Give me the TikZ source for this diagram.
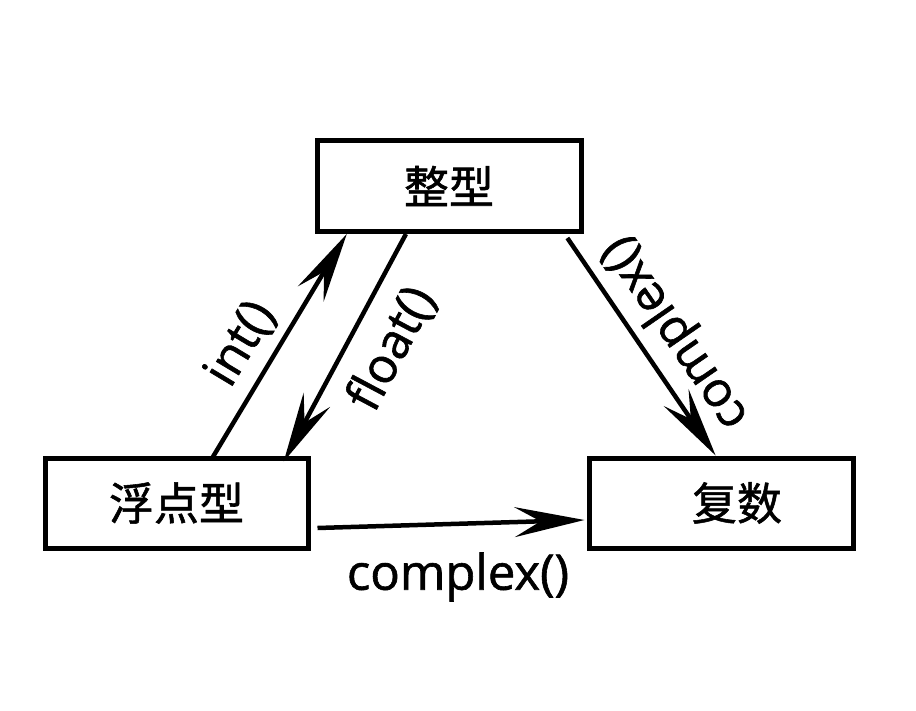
\documentclass[tikz,border=0pt]{standalone}
\usepackage{fontspec}
\setmainfont{Open Sans}[FakeBold=1.2]
\newfontfamily\cjk{Noto Sans CJK SC}[FakeBold=1.2]
\usetikzlibrary{arrows.meta,calc}
\begin{document}
\begin{tikzpicture}[x=1pt,y=-1pt,
  box/.style={draw,line width=5pt,minimum width=264pt,minimum height=91pt,inner sep=0pt,font=\cjk\fontsize{45}{48}\selectfont},
  conn/.style={line width=4.5pt,-{Stealth[length=70pt,width=30pt,inset=26pt]}},
  lbl/.style={font=\fontsize{49}{52}\selectfont,inner sep=0pt}]
\useasboundingbox (0,0) rectangle (916,711);
\node[box] (int) at (449,186) {整型};
\node[box,minimum width=263pt,minimum height=90pt] (flt) at (176.5,503) {浮点型};
\node[box,minimum height=90pt] (cpx) at (721,503) {\hspace*{32pt}复数};
\draw[conn] ($(flt.north west)!0.63!(flt.north east)+(0,4)$) -- ($(int.south west)!0.12!(int.south east)$);
\draw[conn] ($(int.south west)!0.34!(int.south east)$) -- ($(flt.north west)!0.90!(flt.north east)+(0,6)$);
\draw[conn] ($(int.south west)!0.94!(int.south east)+(0,4)$) -- ($(cpx.north west)!0.48!(cpx.north east)$);
\draw[conn] ($(flt.east)+(7,25)$) -- ($(cpx.west)+(-2,17)$);
\node[lbl,rotate=59] (lint) at (241,344) {int()};
\node[lbl,rotate=62] (lflt) at (392,349) {float()};
\node[lbl,rotate=124.6] (lcd) at (676,333) {complex()};
\node[lbl] (lch) at (458,577) {complex()};
\end{tikzpicture}
\end{document}
